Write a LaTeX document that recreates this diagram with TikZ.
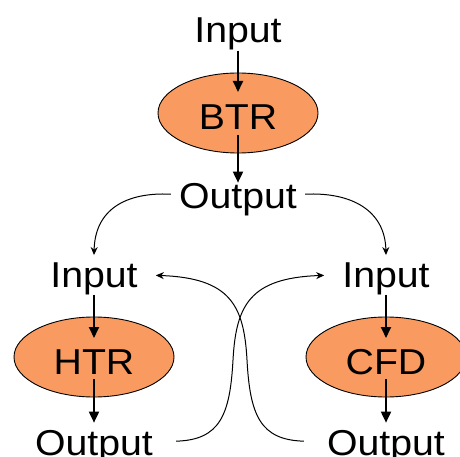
\documentclass[tikz,border=0pt]{standalone}
\usepackage{fontspec}
\setmainfont[FakeStretch=1.09]{Liberation Sans}
\usetikzlibrary{arrows.meta,calc,shapes.geometric}
\definecolor{procfill}{RGB}{249,155,96}
\begin{document}
\begin{tikzpicture}[x=1pt,y=-1pt,
  lbl/.style={inner sep=0pt,anchor=base,font=\fontsize{36}{40}\selectfont},
  proc/.style={ellipse,draw=black,line width=0.9pt,fill=procfill,
    minimum width=160pt,minimum height=80pt,inner sep=0pt,
    text height=34pt,text depth=0pt,font=\fontsize{36}{40}\selectfont},
  flow/.style={line width=1.8pt,-{Triangle[length=11pt,width=10pt]}},
  link/.style={line width=1pt,-{Stealth[length=8pt,width=7pt]}}]
\useasboundingbox (0,0) rectangle (460,457);

% top chain
\node[lbl] (inA) at (238,43) {Input};
\node[proc] (btr) at (238,113) {BTR};
\node[lbl] (outA) at (238,208) {Output};

% left and right chains
\node[lbl] (inL) at (94,287) {Input};
\node[proc] (htr) at (94,357) {HTR};
\node[lbl] (outL) at (94,455) {Output};

\node[lbl] (inR) at (386,287) {Input};
\node[proc] (cfd) at (386,357) {CFD};
\node[lbl] (outR) at (386,455) {Output};

% straight flow arrows
\draw[flow] (inA.south) -- ($(btr.center)+(0,-21)$);
\draw[flow] ($(btr.center)+(0,22)$) -- (outA.north);
\draw[flow] (inL.south) -- ($(htr.center)+(0,-19)$);
\draw[flow] ($(htr.center)+(0,22)$) -- ($(outL.north)+(0,-7)$);
\draw[flow] (inR.south) -- ($(cfd.center)+(0,-19)$);
\draw[flow] ($(cfd.center)+(0,22)$) -- ($(outR.north)+(0,-7)$);

% split from the top output
\draw[link] ($(outA.west)+(-8,-5)$) .. controls (125,192) and (95,210) .. ($(inL.north)+(0,-7)$);
\draw[link] ($(outA.east)+(8,-5)$) .. controls (351,192) and (385,210) .. ($(inR.north)+(0,-7)$);

% crossing exchange between the two lower chains
\draw[link] ($(outL.east)+(23,-5)$) .. controls (220,440) and (230,415) .. (233,360)
  .. controls (236,305) and (250,278) .. ($(inR.west)+(-18,-3)$);
\draw[link] ($(outR.west)+(-23,-5)$) .. controls (260,440) and (250,415) .. (247,360)
  .. controls (244,305) and (230,278) .. ($(inL.east)+(18,-3)$);
\end{tikzpicture}
\end{document}
